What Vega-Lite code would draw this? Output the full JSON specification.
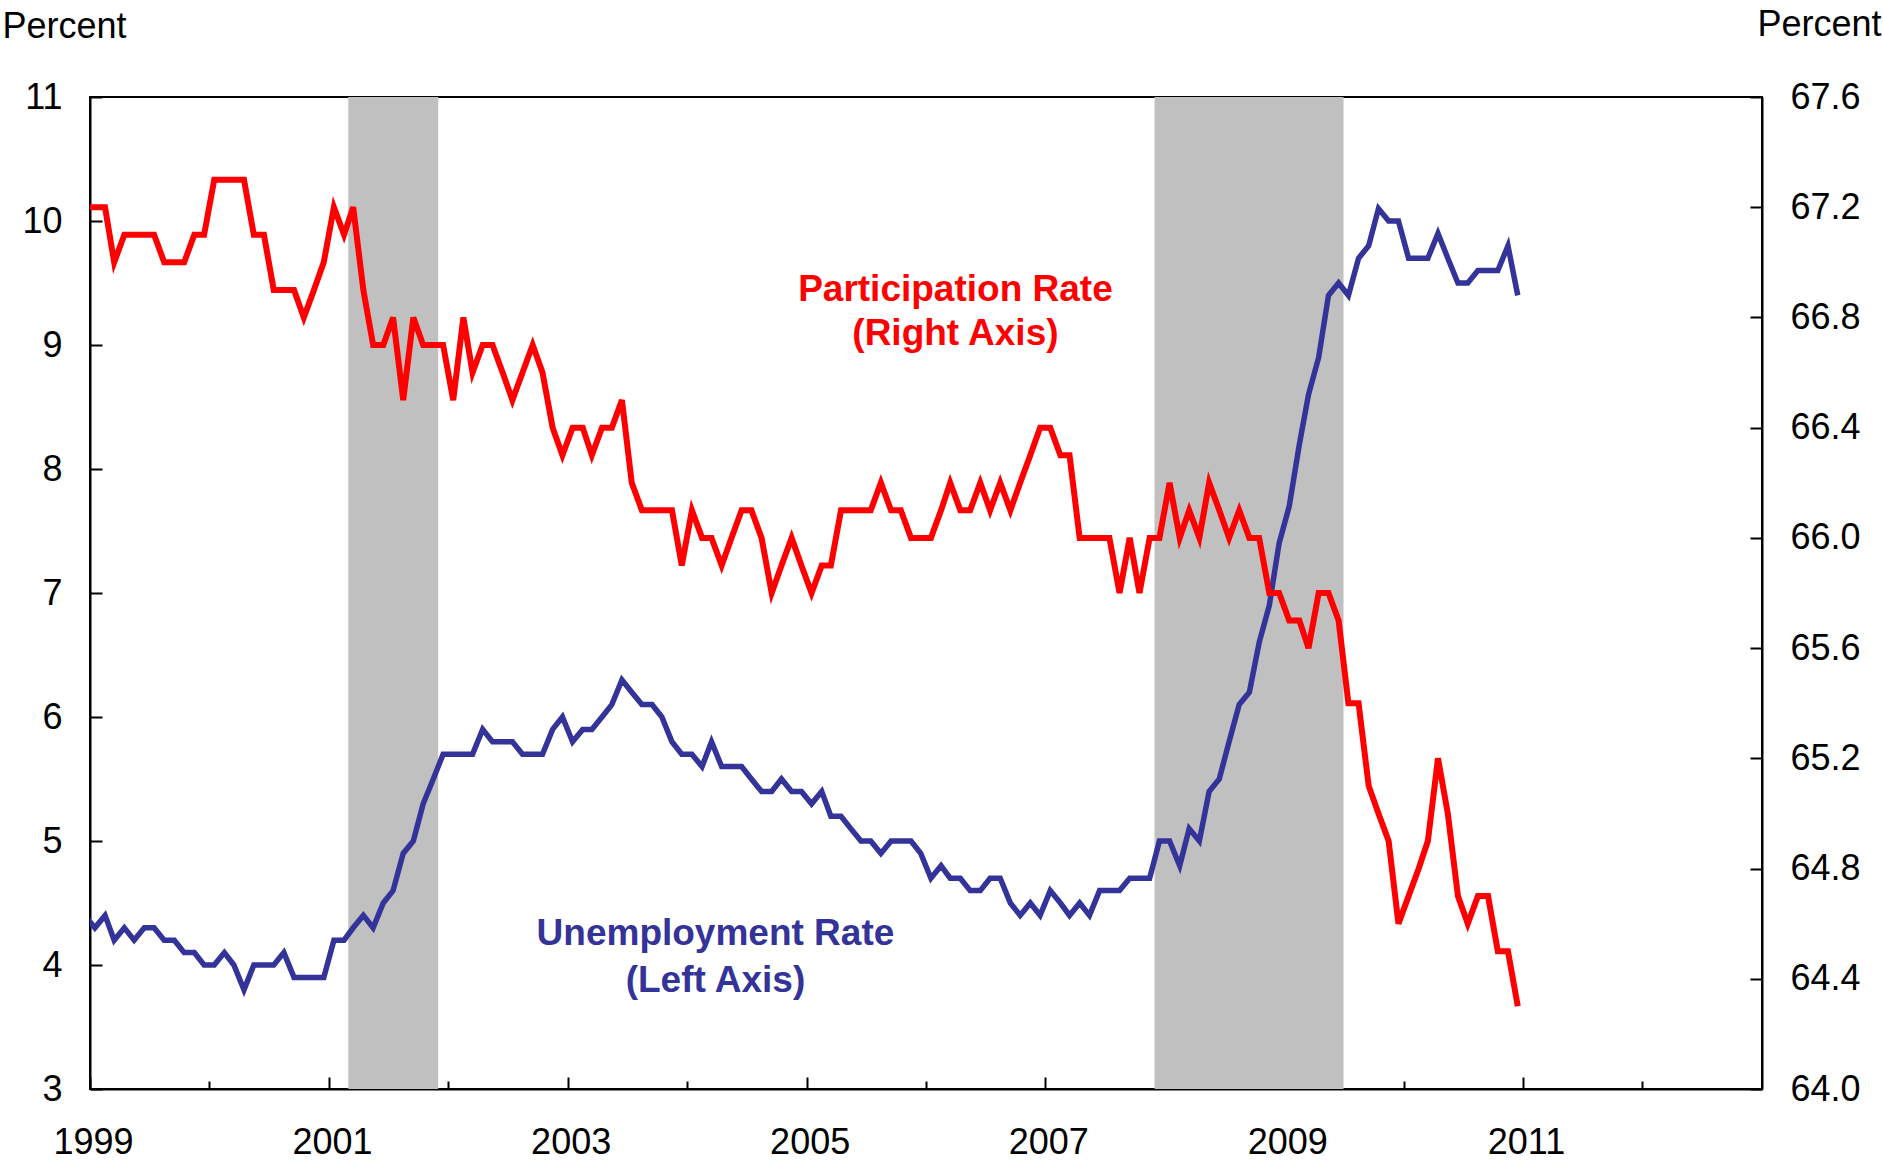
{
  "$schema": "https://vega.github.io/schema/vega-lite/v6.json",
  "width": 1672,
  "height": 992,
  "autosize": {"type": "none"},
  "padding": {"left": 90, "top": 97, "right": 121, "bottom": 78},
  "background": "white",
  "config": {
    "font": "Liberation Sans",
    "view": {"stroke": "black", "strokeWidth": 2},
    "axis": {"grid": false, "domainColor": "black", "domainWidth": 2, "tickColor": "black", "tickWidth": 2, "labelColor": "black", "labelFontSize": 36, "titleColor": "black", "titleFontSize": 36, "titleFontWeight": "normal", "labelFont": "Liberation Sans", "titleFont": "Liberation Sans"}
  },
  "datasets": {
    "recessions": [
      {"start": "2001-03-01", "end": "2001-12-01"},
      {"start": "2007-12-01", "end": "2009-07-01"}
    ],
    "series": [
      {"date": "1998-12-16", "u": 4.4, "p": 67.2},
      {"date": "1999-01-16", "u": 4.3, "p": 67.2},
      {"date": "1999-02-16", "u": 4.4, "p": 67.2},
      {"date": "1999-03-16", "u": 4.2, "p": 67.0},
      {"date": "1999-04-16", "u": 4.3, "p": 67.1},
      {"date": "1999-05-16", "u": 4.2, "p": 67.1},
      {"date": "1999-06-16", "u": 4.3, "p": 67.1},
      {"date": "1999-07-16", "u": 4.3, "p": 67.1},
      {"date": "1999-08-16", "u": 4.2, "p": 67.0},
      {"date": "1999-09-16", "u": 4.2, "p": 67.0},
      {"date": "1999-10-16", "u": 4.1, "p": 67.0},
      {"date": "1999-11-16", "u": 4.1, "p": 67.1},
      {"date": "1999-12-16", "u": 4.0, "p": 67.1},
      {"date": "2000-01-16", "u": 4.0, "p": 67.3},
      {"date": "2000-02-16", "u": 4.1, "p": 67.3},
      {"date": "2000-03-16", "u": 4.0, "p": 67.3},
      {"date": "2000-04-16", "u": 3.8, "p": 67.3},
      {"date": "2000-05-16", "u": 4.0, "p": 67.1},
      {"date": "2000-06-16", "u": 4.0, "p": 67.1},
      {"date": "2000-07-16", "u": 4.0, "p": 66.9},
      {"date": "2000-08-16", "u": 4.1, "p": 66.9},
      {"date": "2000-09-16", "u": 3.9, "p": 66.9},
      {"date": "2000-10-16", "u": 3.9, "p": 66.8},
      {"date": "2000-11-16", "u": 3.9, "p": 66.9},
      {"date": "2000-12-16", "u": 3.9, "p": 67.0},
      {"date": "2001-01-16", "u": 4.2, "p": 67.2},
      {"date": "2001-02-16", "u": 4.2, "p": 67.1},
      {"date": "2001-03-16", "u": 4.3, "p": 67.2},
      {"date": "2001-04-16", "u": 4.4, "p": 66.9},
      {"date": "2001-05-16", "u": 4.3, "p": 66.7},
      {"date": "2001-06-16", "u": 4.5, "p": 66.7},
      {"date": "2001-07-16", "u": 4.6, "p": 66.8},
      {"date": "2001-08-16", "u": 4.9, "p": 66.5},
      {"date": "2001-09-16", "u": 5.0, "p": 66.8},
      {"date": "2001-10-16", "u": 5.3, "p": 66.7},
      {"date": "2001-11-16", "u": 5.5, "p": 66.7},
      {"date": "2001-12-16", "u": 5.7, "p": 66.7},
      {"date": "2002-01-16", "u": 5.7, "p": 66.5},
      {"date": "2002-02-16", "u": 5.7, "p": 66.8},
      {"date": "2002-03-16", "u": 5.7, "p": 66.6},
      {"date": "2002-04-16", "u": 5.9, "p": 66.7},
      {"date": "2002-05-16", "u": 5.8, "p": 66.7},
      {"date": "2002-06-16", "u": 5.8, "p": 66.6},
      {"date": "2002-07-16", "u": 5.8, "p": 66.5},
      {"date": "2002-08-16", "u": 5.7, "p": 66.6},
      {"date": "2002-09-16", "u": 5.7, "p": 66.7},
      {"date": "2002-10-16", "u": 5.7, "p": 66.6},
      {"date": "2002-11-16", "u": 5.9, "p": 66.4},
      {"date": "2002-12-16", "u": 6.0, "p": 66.3},
      {"date": "2003-01-16", "u": 5.8, "p": 66.4},
      {"date": "2003-02-16", "u": 5.9, "p": 66.4},
      {"date": "2003-03-16", "u": 5.9, "p": 66.3},
      {"date": "2003-04-16", "u": 6.0, "p": 66.4},
      {"date": "2003-05-16", "u": 6.1, "p": 66.4},
      {"date": "2003-06-16", "u": 6.3, "p": 66.5},
      {"date": "2003-07-16", "u": 6.2, "p": 66.2},
      {"date": "2003-08-16", "u": 6.1, "p": 66.1},
      {"date": "2003-09-16", "u": 6.1, "p": 66.1},
      {"date": "2003-10-16", "u": 6.0, "p": 66.1},
      {"date": "2003-11-16", "u": 5.8, "p": 66.1},
      {"date": "2003-12-16", "u": 5.7, "p": 65.9},
      {"date": "2004-01-16", "u": 5.7, "p": 66.1},
      {"date": "2004-02-16", "u": 5.6, "p": 66.0},
      {"date": "2004-03-16", "u": 5.8, "p": 66.0},
      {"date": "2004-04-16", "u": 5.6, "p": 65.9},
      {"date": "2004-05-16", "u": 5.6, "p": 66.0},
      {"date": "2004-06-16", "u": 5.6, "p": 66.1},
      {"date": "2004-07-16", "u": 5.5, "p": 66.1},
      {"date": "2004-08-16", "u": 5.4, "p": 66.0},
      {"date": "2004-09-16", "u": 5.4, "p": 65.8},
      {"date": "2004-10-16", "u": 5.5, "p": 65.9},
      {"date": "2004-11-16", "u": 5.4, "p": 66.0},
      {"date": "2004-12-16", "u": 5.4, "p": 65.9},
      {"date": "2005-01-16", "u": 5.3, "p": 65.8},
      {"date": "2005-02-16", "u": 5.4, "p": 65.9},
      {"date": "2005-03-16", "u": 5.2, "p": 65.9},
      {"date": "2005-04-16", "u": 5.2, "p": 66.1},
      {"date": "2005-05-16", "u": 5.1, "p": 66.1},
      {"date": "2005-06-16", "u": 5.0, "p": 66.1},
      {"date": "2005-07-16", "u": 5.0, "p": 66.1},
      {"date": "2005-08-16", "u": 4.9, "p": 66.2},
      {"date": "2005-09-16", "u": 5.0, "p": 66.1},
      {"date": "2005-10-16", "u": 5.0, "p": 66.1},
      {"date": "2005-11-16", "u": 5.0, "p": 66.0},
      {"date": "2005-12-16", "u": 4.9, "p": 66.0},
      {"date": "2006-01-16", "u": 4.7, "p": 66.0},
      {"date": "2006-02-16", "u": 4.8, "p": 66.1},
      {"date": "2006-03-16", "u": 4.7, "p": 66.2},
      {"date": "2006-04-16", "u": 4.7, "p": 66.1},
      {"date": "2006-05-16", "u": 4.6, "p": 66.1},
      {"date": "2006-06-16", "u": 4.6, "p": 66.2},
      {"date": "2006-07-16", "u": 4.7, "p": 66.1},
      {"date": "2006-08-16", "u": 4.7, "p": 66.2},
      {"date": "2006-09-16", "u": 4.5, "p": 66.1},
      {"date": "2006-10-16", "u": 4.4, "p": 66.2},
      {"date": "2006-11-16", "u": 4.5, "p": 66.3},
      {"date": "2006-12-16", "u": 4.4, "p": 66.4},
      {"date": "2007-01-16", "u": 4.6, "p": 66.4},
      {"date": "2007-02-16", "u": 4.5, "p": 66.3},
      {"date": "2007-03-16", "u": 4.4, "p": 66.3},
      {"date": "2007-04-16", "u": 4.5, "p": 66.0},
      {"date": "2007-05-16", "u": 4.4, "p": 66.0},
      {"date": "2007-06-16", "u": 4.6, "p": 66.0},
      {"date": "2007-07-16", "u": 4.6, "p": 66.0},
      {"date": "2007-08-16", "u": 4.6, "p": 65.8},
      {"date": "2007-09-16", "u": 4.7, "p": 66.0},
      {"date": "2007-10-16", "u": 4.7, "p": 65.8},
      {"date": "2007-11-16", "u": 4.7, "p": 66.0},
      {"date": "2007-12-16", "u": 5.0, "p": 66.0},
      {"date": "2008-01-16", "u": 5.0, "p": 66.2},
      {"date": "2008-02-16", "u": 4.8, "p": 66.0},
      {"date": "2008-03-16", "u": 5.1, "p": 66.1},
      {"date": "2008-04-16", "u": 5.0, "p": 66.0},
      {"date": "2008-05-16", "u": 5.4, "p": 66.2},
      {"date": "2008-06-16", "u": 5.5, "p": 66.1},
      {"date": "2008-07-16", "u": 5.8, "p": 66.0},
      {"date": "2008-08-16", "u": 6.1, "p": 66.1},
      {"date": "2008-09-16", "u": 6.2, "p": 66.0},
      {"date": "2008-10-16", "u": 6.6, "p": 66.0},
      {"date": "2008-11-16", "u": 6.9, "p": 65.8},
      {"date": "2008-12-16", "u": 7.4, "p": 65.8},
      {"date": "2009-01-16", "u": 7.7, "p": 65.7},
      {"date": "2009-02-16", "u": 8.2, "p": 65.7},
      {"date": "2009-03-16", "u": 8.6, "p": 65.6},
      {"date": "2009-04-16", "u": 8.9, "p": 65.8},
      {"date": "2009-05-16", "u": 9.4, "p": 65.8},
      {"date": "2009-06-16", "u": 9.5, "p": 65.7},
      {"date": "2009-07-16", "u": 9.4, "p": 65.4},
      {"date": "2009-08-16", "u": 9.7, "p": 65.4},
      {"date": "2009-09-16", "u": 9.8, "p": 65.1},
      {"date": "2009-10-16", "u": 10.1, "p": 65.0},
      {"date": "2009-11-16", "u": 10.0, "p": 64.9},
      {"date": "2009-12-16", "u": 10.0, "p": 64.6},
      {"date": "2010-01-16", "u": 9.7, "p": 64.7},
      {"date": "2010-02-16", "u": 9.7, "p": 64.8},
      {"date": "2010-03-16", "u": 9.7, "p": 64.9},
      {"date": "2010-04-16", "u": 9.9, "p": 65.2},
      {"date": "2010-05-16", "u": 9.7, "p": 65.0},
      {"date": "2010-06-16", "u": 9.5, "p": 64.7},
      {"date": "2010-07-16", "u": 9.5, "p": 64.6},
      {"date": "2010-08-16", "u": 9.6, "p": 64.7},
      {"date": "2010-09-16", "u": 9.6, "p": 64.7},
      {"date": "2010-10-16", "u": 9.6, "p": 64.5},
      {"date": "2010-11-16", "u": 9.8, "p": 64.5},
      {"date": "2010-12-16", "u": 9.4, "p": 64.3}
    ],
    "blueText": [
      {"date": "2004-03-28", "u": 4.25, "label": "Unemployment Rate"},
      {"date": "2004-03-28", "u": 3.87, "label": "(Left Axis)"}
    ],
    "redText": [
      {"date": "2006-04-01", "p": 66.9, "label": "Participation Rate"},
      {"date": "2006-04-01", "p": 66.74, "label": "(Right Axis)"}
    ]
  },
  "layer": [
    {
      "data": {"name": "recessions"},
      "mark": {"type": "rect", "color": "#C0C0C0"},
      "encoding": {
        "x": {
          "field": "start", "type": "temporal", "title": null,
          "scale": {"type": "utc", "domain": [{"year": 1999, "month": 1, "date": 1, "utc": true}, {"year": 2013, "month": 1, "date": 1, "utc": true}]},
          "axis": {
            "values": [
              {"year": 1999, "month": 1, "date": 1, "utc": true},
              {"year": 2000, "month": 1, "date": 1, "utc": true},
              {"year": 2001, "month": 1, "date": 1, "utc": true},
              {"year": 2002, "month": 1, "date": 1, "utc": true},
              {"year": 2003, "month": 1, "date": 1, "utc": true},
              {"year": 2004, "month": 1, "date": 1, "utc": true},
              {"year": 2005, "month": 1, "date": 1, "utc": true},
              {"year": 2006, "month": 1, "date": 1, "utc": true},
              {"year": 2007, "month": 1, "date": 1, "utc": true},
              {"year": 2008, "month": 1, "date": 1, "utc": true},
              {"year": 2009, "month": 1, "date": 1, "utc": true},
              {"year": 2010, "month": 1, "date": 1, "utc": true},
              {"year": 2011, "month": 1, "date": 1, "utc": true},
              {"year": 2012, "month": 1, "date": 1, "utc": true}
            ],
            "labelExpr": "utcyear(datum.value) % 2 == 1 ? utcFormat(datum.value, '%Y') : ''",
            "labelFlush": false,
            "labelOverlap": false,
            "labelBound": false,
            "labelBaseline": "top",
            "labelPadding": 48,
            "labelOffset": 3,
            "tickSize": {"condition": {"test": "utcyear(datum.value) % 2 == 1", "value": -12}, "value": -8}
          }
        },
        "x2": {"field": "end"}
      }
    },
    {
      "layer": [
        {
          "data": {"name": "series"},
          "mark": {"type": "line", "color": "#333399", "strokeWidth": 5.5, "clip": true},
          "encoding": {
            "x": {"field": "date", "type": "temporal", "title": null},
            "y": {
              "field": "u", "type": "quantitative",
              "scale": {"domain": [3, 11], "nice": false, "zero": false},
              "axis": {
                "orient": "left", "values": [3, 4, 5, 6, 7, 8, 9, 10, 11], "format": "d", "tickSize": -12,
                "labelPadding": 40, "labelBaseline": "middle",
                "title": "Percent", "titleAngle": 0, "titleAlign": "left", "titleBaseline": "alphabetic",
                "titleX": -88, "titleY": -60
              }
            }
          }
        },
        {
          "data": {"name": "blueText"},
          "mark": {"type": "text", "color": "#333399", "fontWeight": "bold", "fontSize": 37, "align": "center", "baseline": "middle"},
          "encoding": {
            "x": {"field": "date", "type": "temporal", "title": null},
            "y": {"field": "u", "type": "quantitative"},
            "text": {"field": "label"}
          }
        }
      ]
    },
    {
      "layer": [
        {
          "data": {"name": "series"},
          "mark": {"type": "line", "color": "#FF0000", "strokeWidth": 6, "clip": true},
          "encoding": {
            "x": {"field": "date", "type": "temporal", "title": null},
            "y": {
              "field": "p", "type": "quantitative",
              "scale": {"domain": [64, 67.6], "nice": false, "zero": false},
              "axis": {
                "orient": "right", "values": [64, 64.4, 64.8, 65.2, 65.6, 66, 66.4, 66.8, 67.2, 67.6], "format": ".1f", "tickSize": -12,
                "labelPadding": 40, "labelBaseline": "middle",
                "title": "Percent", "titleAngle": 0, "titleAlign": "right", "titleBaseline": "alphabetic",
                "titleX": 119, "titleY": -62
              }
            }
          }
        },
        {
          "data": {"name": "redText"},
          "mark": {"type": "text", "color": "#FF0000", "fontWeight": "bold", "fontSize": 37, "align": "center", "baseline": "middle"},
          "encoding": {
            "x": {"field": "date", "type": "temporal", "title": null},
            "y": {"field": "p", "type": "quantitative"},
            "text": {"field": "label"}
          }
        }
      ]
    }
  ],
  "resolve": {"scale": {"y": "independent"}}
}
